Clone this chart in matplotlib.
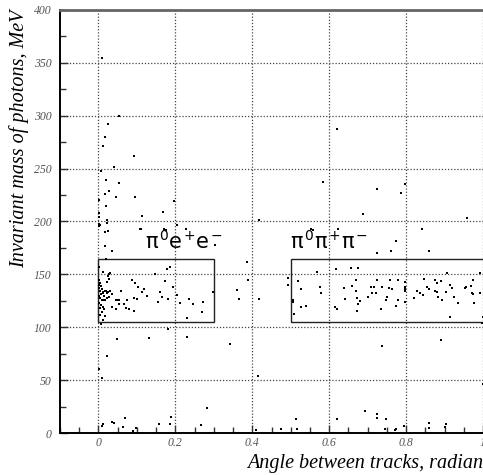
import matplotlib
matplotlib.use("Agg")
import matplotlib.pyplot as plt
from matplotlib.patches import Rectangle
from matplotlib.ticker import MultipleLocator, FuncFormatter
from matplotlib.transforms import IdentityTransform

# angle between tracks (radian), invariant mass of photons (MeV)
angle = [
    # upper scattered region
    0.010, 0.053, 0.026, 0.017, 0.013, 0.093, 0.041, 0.006, 0.020, 0.054,
    0.027, 0.016, 0.046, 0.094, 0.001, 0.197, 0.020, 0.001, 0.167, 0.002,
    0.113, 0.021, 0.021, 0.001, 0.001, 0.108, 0.171, 0.175, 0.228, 0.418,
    0.620, 0.585, 0.724, 0.798, 0.787, 0.688, 0.959, 0.553, 0.557, 0.622,
    0.842, 0.004, 0.110, 0.017, 0.025, 0.018, 0.035, 0.303, 0.203,
    # box 1 region
    0.019, 0.013, 0.027, 0.030, 0.024, 0.027, 0.021, 0.001, 0.058, 0.045,
    0.047, 0.054, 0.053, 0.034, 0.046, 0.066, 0.073, 0.072, 0.079, 0.092,
    0.086, 0.094, 0.102, 0.093, 0.099, 0.118, 0.112, 0.125, 0.146, 0.159,
    0.166, 0.155, 0.178, 0.186, 0.172, 0.195, 0.204, 0.180, 0.213, 0.236,
    0.245, 0.230, 0.273, 0.270, 0.299, 0.006,
    # dense cluster at small angles
    0.002, 0.004, 0.001, 0.006, 0.002, 0.008, 0.004, 0.0126, 0.017, 0.019,
    0.011, 0.007, 0.002, 0.014, 0.004, 0.008, 0.0126, 0.017, 0.002, 0.007,
    0.0126, 0.004, 0.015, 0.009, 0.004, 0.016, 0.011, 0.021, 0.026, 0.030,
    0.034, 0.028, 0.021,
    # between the boxes
    0.360, 0.365, 0.386, 0.390, 0.418,
    # box 2 region
    0.492, 0.492, 0.518, 0.527, 0.505, 0.507, 0.508, 0.527, 0.540, 0.568,
    0.577, 0.580, 0.617, 0.616, 0.620, 0.639, 0.641, 0.658, 0.674, 0.660,
    0.670, 0.671, 0.672, 0.680, 0.676, 0.672, 0.701, 0.710, 0.717, 0.712,
    0.724, 0.722, 0.737, 0.736, 0.750, 0.747, 0.756, 0.759, 0.763, 0.775,
    0.778, 0.779, 0.796, 0.796, 0.798, 0.796, 0.796, 0.820, 0.828, 0.835,
    0.843, 0.847, 0.855, 0.859, 0.876, 0.881, 0.874, 0.881, 0.890, 0.883,
    0.894, 0.903, 0.907, 0.913, 0.920, 0.924, 0.935, 0.913, 0.954, 0.957,
    0.970, 0.974, 0.972, 0.975, 0.977, 0.993, 0.991, 0.997, 0.999,
    0.724, 0.762, 0.773, 0.860,
    # below the boxes
    0.181, 0.132, 0.230, 0.049, 0.891, 0.737, 0.002, 0.008, 0.023, 0.341,
    0.414, 0.999,
    # near zero mass
    0.008, 0.013, 0.034, 0.040, 0.069, 0.065, 0.091, 0.098, 0.158, 0.186,
    0.189, 0.282, 0.267, 0.409, 0.474, 0.514, 0.517, 0.620, 0.692, 0.724,
    0.724, 0.748, 0.746, 0.770, 0.773, 0.795, 0.859, 0.859, 0.903, 0.901,
]
mass = [
    355, 299.5, 292, 280, 271, 262, 252, 247.5, 239, 236,
    229, 226, 223, 223, 220, 219, 215, 208.5, 209, 204,
    205, 201, 199, 198, 196, 193, 193, 192, 192.6, 201.4,
    287, 237, 231, 235, 227, 207, 203, 193, 192, 193,
    193, 197, 193, 190, 191, 177, 172, 178, 197,
    165, 152.5, 150, 151, 148, 146, 142.5, 157, 134.3, 126,
    126, 126, 122, 119, 117, 122, 126, 118, 117.6, 115,
    145, 141.5, 138, 127.4, 126.4, 136, 133, 129.5, 150, 133,
    129, 123.6, 154.7, 157, 144, 137.7, 130.5, 127, 123, 126.4,
    122, 108.7, 124, 114, 133, 102.8,
    144.7, 141.5, 140, 139, 137, 136, 134.6, 133.6, 134, 134.6,
    132, 131, 129.6, 129.6, 127.4, 126, 125.4, 126, 123, 121,
    119.4, 118, 117, 114, 111.5, 110.6, 106.8, 132.5, 133, 134,
    131.8, 129, 128,
    135, 127, 162, 144.7, 127,
    147, 140, 144, 136, 125.8, 124, 113, 119.5, 120, 152.5,
    138, 132, 155, 119.5, 117, 137, 126.7, 156, 155.7, 139,
    144.7, 134.6, 127.4, 125, 122, 115, 129, 138.4, 138.4, 132,
    144.7, 132.7, 138.4, 117, 129, 125.8, 137.4, 144.7, 136, 120,
    144.7, 125.8, 143, 138.4, 136.5, 134.3, 124, 127.4, 134.6, 132,
    130.5, 146, 138.4, 136.5, 144.7, 142, 134.6, 133, 144, 129,
    125.8, 133, 151.6, 140, 136.8, 129, 123, 109.4, 136.8, 138,
    139, 144.7, 132, 131, 123, 151.6, 132, 103.7, 109.7,
    170, 172.4, 181.6, 172.4,
    98, 89.8, 90.5, 88.6, 88, 82.3, 60.5, 52.4, 72.8, 84,
    53.6, 46,
    6.6, 8.5, 10.7, 9.1, 14.5, 6, 2.1, 5, 8.5, 8.2,
    14.8, 23.9, 7.6, 3.2, 3.8, 13.5, 3.8, 13.2, 21, 17.6,
    14.5, 12.9, 4.1, 2.8, 3.5, 6.6, 9.8, 4.4, 8.5, 6,
]

# selection boxes: (angle_min, angle_max, mass_min, mass_max)
box_limits = [(0.0, 0.30, 105, 165), (0.5, 1.05, 105, 165)]
# box labels as (symbol, charge superscript) pairs
box_labels = [
    [("π", "0"), ("e", "+"), ("e", "−")],
    [("π", "0"), ("π", "+"), ("π", "−")],
]
label_pos = [(0.121, 175), (0.499, 175)]

xlabel = "Angle between tracks, radian"
ylabel = "Invariant mass of photons, MeV"

W, H = 483, 475
fig = plt.figure(figsize=(W / 100, H / 100), dpi=100)
ax = fig.add_axes([60 / W, 1 - 433 / H, 1 - 60 / W, 423 / H])

ax.set_xlim(-0.1, 1.0)
ax.set_ylim(0, 400)

ax.scatter(angle, mass, s=4.5, marker="s", c="black", linewidths=0, zorder=3)

for (x0, x1, y0, y1) in box_limits:
    ax.add_patch(Rectangle((x0, y0), x1 - x0, y1 - y0, fill=False,
                           edgecolor="#222222", linewidth=1.0, zorder=2))

ax.xaxis.set_major_locator(MultipleLocator(0.2))
ax.xaxis.set_minor_locator(MultipleLocator(0.05))
ax.yaxis.set_major_locator(MultipleLocator(50))
ax.yaxis.set_minor_locator(MultipleLocator(25))

def xfmt(v, pos):
    if abs(v) < 1e-9:
        return "0"
    if abs(v - 1) < 1e-9:
        return "1"
    return f"{v:.1f}"

ax.xaxis.set_major_formatter(FuncFormatter(xfmt))
ax.yaxis.set_major_formatter(FuncFormatter(lambda v, p: f"{int(round(v))}"))

ax.grid(True, which="major", linestyle=(0, (1, 1.5)), color="#444444", linewidth=0.9)
ax.set_axisbelow(True)

ax.tick_params(which="both", direction="in", top=False, right=False,
               colors="#333333", labelcolor="#555555")
ax.tick_params(which="major", length=6, width=1)
ax.tick_params(which="minor", length=4, width=1)
for lab in ax.get_xticklabels() + ax.get_yticklabels():
    lab.set_family("Liberation Serif")
    lab.set_style("italic")
    lab.set_fontsize(8.5)
ax.tick_params(axis="y", pad=6)
ax.tick_params(axis="x", pad=3)

for side in ["left", "bottom"]:
    ax.spines[side].set_linewidth(1.4)
    ax.spines[side].set_color("black")
ax.spines["top"].set_linewidth(2)
ax.spines["top"].set_color("#666666")
ax.spines["right"].set_visible(False)

fig.text(483 / W, 1 - 468 / H, xlabel, ha="right", va="baseline",
         fontsize=14.5, family="Liberation Serif", style="italic")
fig.text(19 / W, 1 - 10 / H, ylabel, ha="center", va="top", rotation=90,
         fontsize=14.5, family="Liberation Serif", style="italic")

# lay out the particle labels piece by piece
renderer = fig.canvas.get_renderer()
for pieces, (lx, ly) in zip(box_labels, label_pos):
    px, py = ax.transData.transform((lx, ly))
    for sym, sup in pieces:
        t = fig.text(px, py, sym, transform=IdentityTransform(), fontsize=15,
                     family="DejaVu Sans", ha="left", va="baseline")
        bb = t.get_window_extent(renderer)
        px = bb.x1 + 1.5
        t2 = fig.text(px, py + 8, sup, transform=IdentityTransform(), fontsize=10,
                      family="DejaVu Sans", ha="left", va="baseline")
        bb2 = t2.get_window_extent(renderer)
        px = bb2.x1 + 1.0

fig.savefig("out.png", dpi=100)
